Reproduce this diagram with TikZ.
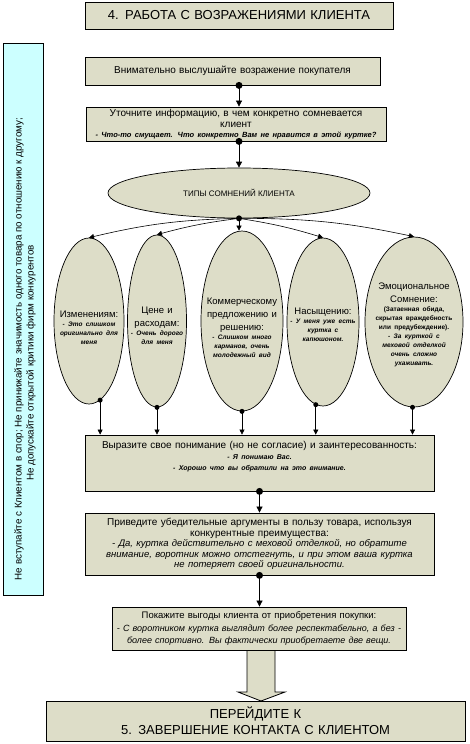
\documentclass[tikz,border=0pt]{standalone}
\usepackage{fontspec}
\setmainfont{Liberation Sans}
\usetikzlibrary{arrows.meta,shapes.geometric}
\definecolor{boxfill}{RGB}{221,221,200}
\definecolor{sidefill}{RGB}{204,255,255}
\newcommand\szTitle{\fontsize{13}{16}\selectfont}
\newcommand\szMain{\fontsize{10}{10.5}\selectfont}
\newcommand\szEl{\fontsize{9.5}{13}\selectfont}
\newcommand\szSm{\fontsize{6.5}{9}\selectfont\bfseries\itshape}
\newcommand\szSmB{\fontsize{6.5}{9}\selectfont\bfseries}
\newcommand\szIt{\fontsize{9.5}{10.5}\selectfont\itshape}
\newcommand\szSide{\fontsize{9.8}{12}\selectfont}
\begin{document}
\begin{tikzpicture}[x=1pt,y=-1pt,
  box/.style={draw, fill=boxfill, inner sep=0pt, align=center, line width=0.8pt},
  oval/.style={ellipse, draw, fill=boxfill, inner sep=0pt, line width=0.7pt},
  otext/.style={align=center, inner sep=0pt},
  arr/.style={-{Triangle[width=6pt,length=6pt]}, line width=0.7pt},
  fan/.style={-{Triangle[width=5pt,length=5pt]}, line width=0.6pt}]
\useasboundingbox (0,0) rectangle (469,744);

% big hollow arrow
\draw[fill=boxfill, line width=0.8pt] (247,650) -- (247,692) -- (238,692) -- (261,701) -- (285,692) -- (275,692) -- (275,650);

\node[box, minimum width=308pt, minimum height=27pt, text width=300pt, font=\szTitle] (title) at (239,15.5) {4. РАБОТА С ВОЗРАЖЕНИЯМИ КЛИЕНТА};

\node[draw, fill=sidefill, line width=0.8pt, minimum width=40pt, minimum height=552pt, inner sep=0pt] (side) at (23,319) {};
\node[rotate=90, font=\szSide, inner sep=0pt] (lt1) at (19,349) {Не вступайте с Клиентом в спор; Не принижайте значимость одного товара по отношению к другому;};
\node[rotate=90, font=\szSide, inner sep=0pt] (lt2) at (31,363) {Не допускайте открытой критики фирм конкурентов};

\node[box, minimum width=295pt, minimum height=28pt, text width=290pt, font=\szMain] (b1) at (232.5,71) {Внимательно выслушайте возражение покупателя};

\node[box, minimum width=300pt, minimum height=34pt, text width=296pt, font=\szMain] (b2) at (236,124) {Уточните информацию, в чем конкретно сомневается\\ клиент\\ {\fontsize{7.5}{10}\selectfont\bfseries\itshape - Что-то смущает. Что конкретно Вам не нравится в этой куртке?\par}};

\node[oval, minimum width=262pt, minimum height=50pt] (e0) at (239,193) {};
\node[otext, font=\fontsize{8}{9}\selectfont] (t0) at (e0.center) {ТИПЫ СОМНЕНИЙ КЛИЕНТА};

\node[oval, minimum width=70pt, minimum height=166pt] (e1) at (89,321) {};
\node[oval, minimum width=59pt, minimum height=172pt] (e2) at (157,321) {};
\node[oval, minimum width=82pt, minimum height=180pt] (e3) at (242,321) {};
\node[oval, minimum width=72pt, minimum height=168pt] (e4) at (323,322) {};
\node[oval, minimum width=98pt, minimum height=170pt] (e5) at (414,322) {};

\node[otext, text width=66pt] (t1) at ([yshift=-7pt]e1.center) {{\szEl Изменениям:\par}{\szSm - Это слишком\\ оригинально для\\ меня\par}};
\node[otext, text width=58pt] (t2) at ([yshift=-5pt]e2.center) {{\szEl Цене и\\ расходам:\par}{\szSm - Очень дорого\\ для меня\par}};
\node[otext, text width=80pt] (t3) at ([yshift=-7pt]e3.center) {{\szEl Коммерческому\\ предложению и\\ решению:\par}{\szSm - Слишком много\\ карманов, очень\\ молодежный вид\par}};
\node[otext, text width=70pt] (t4) at ([yshift=-3pt]e4.center) {{\szEl Насыщению:\par}{\szSm - У меня уже есть\\ куртка с\\ капюшоном.\par}};
\node[otext, text width=94pt] (t5) at ([yshift=-3pt]e5.center) {{\szEl Эмоциональное\\ Сомнение:\par}{\szSmB (Затаенная обида,\\ скрытая враждебность\\ или предубеждение).\par}{\szSm - За курткой с\\ меховой отделкой\\ очень сложно\\ ухаживать.\par}};

\node[box, minimum width=349pt, minimum height=56pt, text width=345pt, font=\szMain] (b3) at (259.5,463) {Выразите свое понимание (но не согласие) и заинтересованность:\par {\fontsize{7}{11}\selectfont\bfseries\itshape - Я понимаю Вас.\\ - Хорошо что вы обратили на это внимание.\rule[-14pt]{0pt}{14pt}\par}};

\node[box, minimum width=349pt, minimum height=62pt, text width=345pt, font=\szMain] (b4) at (259.5,544) {Приведите убедительные аргументы в пользу товара, используя\\ конкурентные преимущества:\\ {\szIt - Да, куртка действительно с меховой отделкой, но обратите\\ внимание, воротник можно отстегнуть, и при этом ваша куртка\\ не потеряет своей оригинальности.\par}};

\node[box, minimum width=294pt, minimum height=43pt, text width=290pt, font=\fontsize{9.5}{12.5}\selectfont] (b5) at (259,628.5) {Покажите выгоды клиента от приобретения покупки:\\ {\fontsize{9}{12.5}\selectfont\itshape - С воротником куртка выглядит более респектабельно, а без -\\ более спортивно. Вы фактически приобретаете две вещи.\par}};

\node[box, minimum width=419pt, minimum height=40pt, text width=410pt, font=\szTitle] (b6) at (255.5,721) {ПЕРЕЙДИТЕ К\\ 5. ЗАВЕРШЕНИЕ КОНТАКТА С КЛИЕНТОМ};

% connectors
\fill (b1.south -| e0.center) circle (3.5pt);
\draw[arr] (b1.south -| e0.center) -- (b2.north -| e0.center);
\fill (b2.south -| e0.center) circle (3.5pt);
\draw[arr] (b2.south -| e0.center) -- (e0.north);

\fill (e0.south) circle (3pt);
\draw[fan] (e0.south) to[bend right=6] (e1.north);
\draw[fan] (e0.south) to[bend right=4] (e2.north);
\draw[fan] (e0.south) -- (e0.south |- e3.north);
\draw[fan] (e0.south) to[bend left=4] (e4.north);
\draw[fan] (e0.south) to[bend left=6] (e5.north);

\foreach \e/\a in {e1/278, e2/270, e3/270, e4/265, e5/269}{
  \fill (\e.\a) circle (2.5pt);
  \draw[fan] (\e.\a) -- (\e.\a |- b3.north);
}

\fill (b3.south) circle (3.5pt);
\draw[arr] (b3.south) -- (b4.north);
\fill (b4.south) circle (3.5pt);
\draw[arr] (b4.south) -- (b4.south |- b5.north);
\end{tikzpicture}
\end{document}
